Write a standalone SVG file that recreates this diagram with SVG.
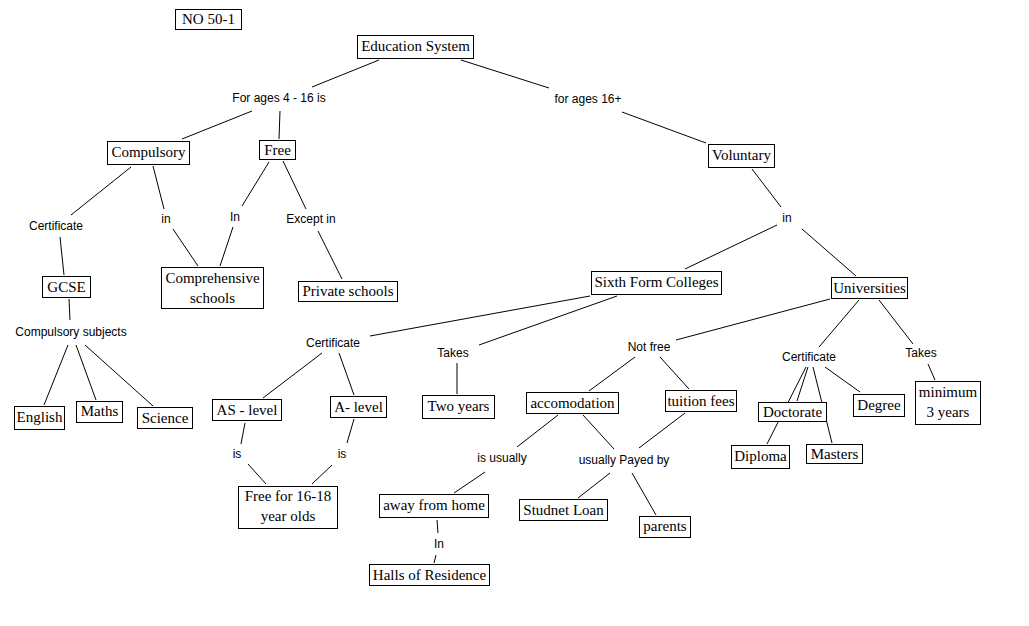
<svg xmlns="http://www.w3.org/2000/svg" width="1029" height="626" viewBox="0 0 1029 626">
<style>
.n rect{fill:#fff;stroke:#000;stroke-width:1}
.n text{font-family:"Liberation Serif","Times New Roman",serif;font-size:15px;fill:#000;text-anchor:middle}
.lb{font-family:"Liberation Sans",Arial,sans-serif;font-size:12px;fill:#000;text-anchor:middle}
#connectors line{stroke:#000;stroke-width:1}
</style>
<rect width="1029" height="626" fill="#fff"/>
<g id="connectors">
<line x1="379" y1="60" x2="312" y2="87"/>
<line x1="461" y1="60" x2="549" y2="88"/>
<line x1="622" y1="112" x2="706" y2="143"/>
<line x1="752" y1="169" x2="781" y2="207"/>
<line x1="777" y1="225" x2="685" y2="269"/>
<line x1="802" y1="229" x2="856" y2="276"/>
<line x1="252" y1="111" x2="182" y2="139"/>
<line x1="280" y1="111" x2="279" y2="139"/>
<line x1="131" y1="167" x2="71" y2="215"/>
<line x1="60" y1="237" x2="64" y2="275"/>
<line x1="153" y1="166" x2="164" y2="209"/>
<line x1="173" y1="229" x2="198" y2="266"/>
<line x1="269" y1="162" x2="242" y2="206"/>
<line x1="233" y1="227" x2="220" y2="266"/>
<line x1="283" y1="161" x2="306" y2="209"/>
<line x1="318" y1="231" x2="342" y2="279"/>
<line x1="590" y1="296" x2="370" y2="336"/>
<line x1="617" y1="296" x2="479" y2="345"/>
<line x1="69" y1="299" x2="70" y2="320"/>
<line x1="68" y1="345" x2="44" y2="405"/>
<line x1="76" y1="345" x2="96" y2="400"/>
<line x1="85" y1="345" x2="153" y2="406"/>
<line x1="322" y1="353" x2="263" y2="398"/>
<line x1="339" y1="353" x2="354" y2="395"/>
<line x1="245" y1="423" x2="241" y2="444"/>
<line x1="248" y1="464" x2="266" y2="484"/>
<line x1="354" y1="419" x2="347" y2="443"/>
<line x1="332" y1="465" x2="312" y2="484"/>
<line x1="457" y1="363" x2="457" y2="394"/>
<line x1="485" y1="472" x2="454" y2="493"/>
<line x1="437" y1="520" x2="438" y2="533"/>
<line x1="436" y1="555" x2="434" y2="563"/>
<line x1="830" y1="299" x2="676" y2="340"/>
<line x1="635" y1="357" x2="589" y2="391"/>
<line x1="660" y1="357" x2="689" y2="389"/>
<line x1="558" y1="415" x2="517" y2="447"/>
<line x1="583" y1="415" x2="614" y2="449"/>
<line x1="685" y1="413" x2="639" y2="448"/>
<line x1="610" y1="473" x2="578" y2="498"/>
<line x1="632" y1="473" x2="656" y2="515"/>
<line x1="859" y1="300" x2="819" y2="347"/>
<line x1="879" y1="300" x2="913" y2="344"/>
<line x1="928" y1="364" x2="935" y2="380"/>
<line x1="806" y1="367" x2="767" y2="444"/>
<line x1="808" y1="367" x2="797" y2="401"/>
<line x1="813" y1="367" x2="832" y2="443"/>
<line x1="825" y1="367" x2="860" y2="392"/>
</g>
<g id="labels">
<text class="lb" x="279" y="102">For ages 4 - 16 is</text>
<text class="lb" x="588" y="103">for ages 16+</text>
<text class="lb" x="787" y="222">in</text>
<text class="lb" x="56" y="230">Certificate</text>
<text class="lb" x="166" y="223">in</text>
<text class="lb" x="235" y="221">In</text>
<text class="lb" x="311" y="223">Except in</text>
<text class="lb" x="71" y="336">Compulsory subjects</text>
<text class="lb" x="333" y="347">Certificate</text>
<text class="lb" x="237" y="458">is</text>
<text class="lb" x="342" y="458">is</text>
<text class="lb" x="453" y="357">Takes</text>
<text class="lb" x="502" y="462">is usually</text>
<text class="lb" x="649" y="351">Not free</text>
<text class="lb" x="624" y="464">usually Payed by</text>
<text class="lb" x="809" y="361">Certificate</text>
<text class="lb" x="921" y="357">Takes</text>
<text class="lb" x="439" y="548">In</text>
</g>
<g id="n-no501" class="n"><rect x="175.5" y="9.5" width="66" height="20"/><text x="208.5" y="24">NO 50-1</text></g>
<g id="n-edu" class="n"><rect x="357.5" y="35.5" width="116" height="23"/><text x="415.5" y="51">Education System</text></g>
<g id="n-compulsory" class="n"><rect x="107.5" y="141.5" width="82" height="23"/><text x="148.5" y="157">Compulsory</text></g>
<g id="n-free" class="n"><rect x="259.5" y="140.5" width="36" height="19"/><text x="277.5" y="155">Free</text></g>
<g id="n-voluntary" class="n"><rect x="708.5" y="144.5" width="66" height="23"/><text x="741.5" y="160">Voluntary</text></g>
<g id="n-gcse" class="n"><rect x="42.5" y="276.5" width="48" height="21"/><text x="66.5" y="292">GCSE</text></g>
<g id="n-comprehensive" class="n"><rect x="161.5" y="267.5" width="102" height="41"/><text x="212.5" y="283">Comprehensive</text><text x="212.5" y="303">schools</text></g>
<g id="n-private" class="n"><rect x="298.5" y="281.5" width="99" height="20"/><text x="348" y="296">Private schools</text></g>
<g id="n-sixth" class="n"><rect x="591.5" y="271.5" width="130" height="23"/><text x="656.5" y="287">Sixth Form Colleges</text></g>
<g id="n-universities" class="n"><rect x="831.5" y="277.5" width="76" height="21"/><text x="869.5" y="293">Universities</text></g>
<g id="n-english" class="n"><rect x="14.5" y="406.5" width="50" height="23"/><text x="39.5" y="422">English</text></g>
<g id="n-maths" class="n"><rect x="76.5" y="401.5" width="46" height="21"/><text x="99.5" y="416">Maths</text></g>
<g id="n-science" class="n"><rect x="137.5" y="407.5" width="55" height="21"/><text x="165" y="423">Science</text></g>
<g id="n-aslevel" class="n"><rect x="212.5" y="399.5" width="69" height="21"/><text x="247" y="415">AS - level</text></g>
<g id="n-alevel" class="n"><rect x="330.5" y="396.5" width="56" height="21"/><text x="358.5" y="412">A- level</text></g>
<g id="n-twoyears" class="n"><rect x="422.5" y="395.5" width="72" height="23"/><text x="458.5" y="411">Two years</text></g>
<g id="n-free1618" class="n"><rect x="238.5" y="486.5" width="99" height="42"/><text x="288" y="501">Free for 16-18</text><text x="288" y="521">year olds</text></g>
<g id="n-accomodation" class="n"><rect x="526.5" y="392.5" width="92" height="21"/><text x="572.5" y="408">accomodation</text></g>
<g id="n-tuition" class="n"><rect x="665.5" y="390.5" width="71" height="21"/><text x="701" y="406">tuition fees</text></g>
<g id="n-away" class="n"><rect x="379.5" y="494.5" width="109" height="23"/><text x="434" y="510">away from home</text></g>
<g id="n-halls" class="n"><rect x="369.5" y="564.5" width="120" height="21"/><text x="429.5" y="580">Halls of Residence</text></g>
<g id="n-loan" class="n"><rect x="519.5" y="499.5" width="88" height="21"/><text x="563.5" y="515">Studnet Loan</text></g>
<g id="n-parents" class="n"><rect x="639.5" y="516.5" width="51" height="21"/><text x="665" y="531">parents</text></g>
<g id="n-doctorate" class="n"><rect x="758.5" y="402.5" width="68" height="19"/><text x="792.5" y="417">Doctorate</text></g>
<g id="n-degree" class="n"><rect x="853.5" y="394.5" width="51" height="22"/><text x="879" y="410">Degree</text></g>
<g id="n-diploma" class="n"><rect x="731.5" y="445.5" width="58" height="23"/><text x="760.5" y="461">Diploma</text></g>
<g id="n-masters" class="n"><rect x="806.5" y="444.5" width="56" height="19"/><text x="834.5" y="459">Masters</text></g>
<g id="n-minimum" class="n"><rect x="915.5" y="381.5" width="65" height="43"/><text x="948" y="397">minimum</text><text x="948" y="417">3 years</text></g>
</svg>
